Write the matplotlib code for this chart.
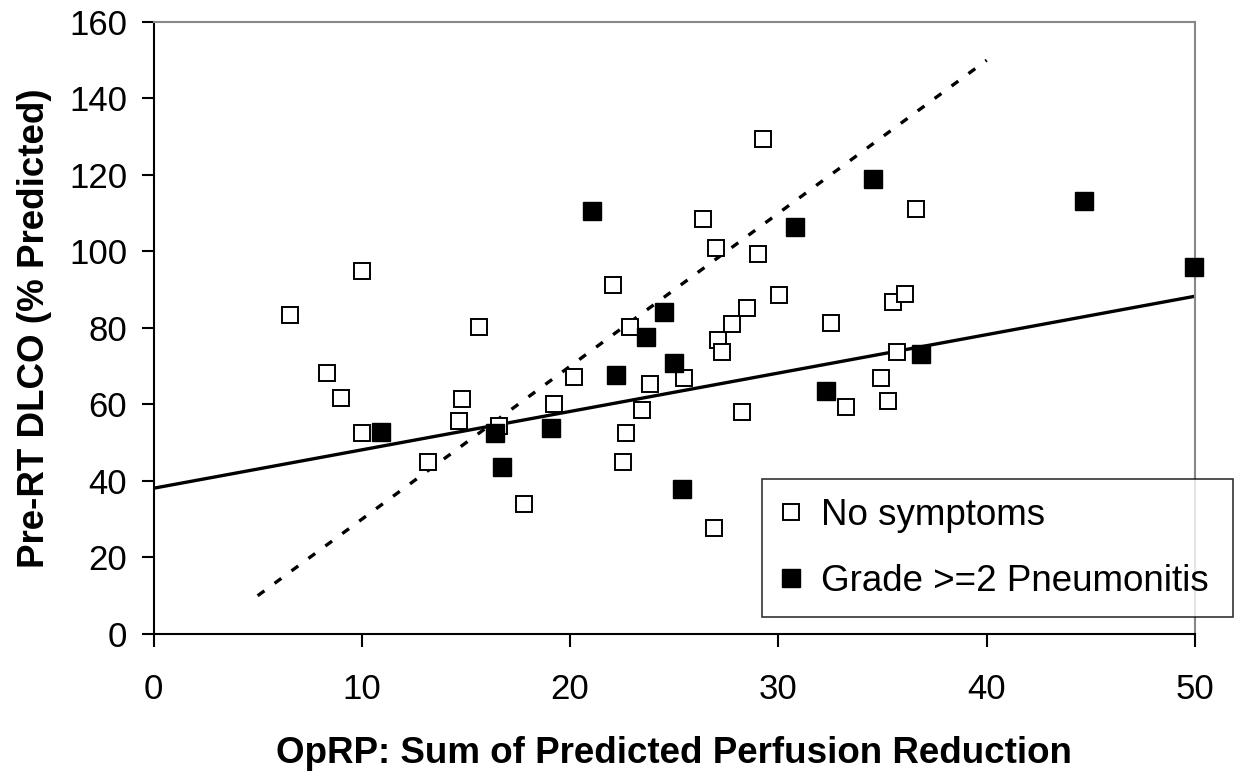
import numpy as np
import matplotlib.pyplot as plt

plt.rcParams['font.family'] = ['Liberation Sans', 'DejaVu Sans']

# No symptoms (open squares)
x_none = [6.55, 8.34, 9.02, 10.02, 10.02, 13.2, 14.68, 14.8, 15.64, 16.57,
          17.79, 19.21, 20.2, 22.07, 22.55, 22.67, 22.86, 23.44, 23.85, 25.48,
          26.4, 26.91, 27.0, 27.12, 27.28, 27.77, 28.25, 28.5, 29.04, 29.25,
          30.03, 32.51, 33.25, 34.91, 35.26, 35.49, 35.68, 36.08, 36.6]
y_none = [83.4, 68.2, 61.6, 95.0, 52.6, 44.9, 55.8, 61.5, 80.2, 54.4,
          34.0, 60.2, 67.3, 91.2, 44.9, 52.5, 80.2, 58.6, 65.3, 67.0,
          108.5, 27.6, 100.8, 76.9, 73.6, 81.0, 58.1, 85.2, 99.4, 129.3,
          88.7, 81.3, 59.4, 66.9, 61.0, 86.8, 73.6, 88.9, 111.2]

# Grade >=2 pneumonitis (filled squares)
x_pneu = [10.9, 16.38, 16.73, 19.07, 21.07, 22.19, 23.66, 24.49, 25.0, 25.36,
          30.81, 32.3, 34.53, 36.84, 44.67, 49.97]
y_pneu = [52.7, 52.6, 43.6, 53.9, 110.6, 67.8, 77.7, 84.3, 70.8, 38.0,
          106.4, 63.6, 118.9, 73.1, 113.3, 96.0]

# trend lines (endpoints)
solid_x = [0, 50]
solid_y = [38.1, 88.3]
dotted_x = [5, 40]
dotted_y = [10, 150]

fig = plt.figure(figsize=(12.44, 7.71), dpi=100)
ax = fig.add_axes([0.1234, 0.1777, 0.8372, 0.7938])

ax.plot(solid_x, solid_y, color='black', linewidth=2.4, zorder=2)
ax.plot(dotted_x, dotted_y, color='black', linewidth=2.4,
        linestyle=(0, (2.5, 3.8)), zorder=2)

ax.plot(x_none, y_none, linestyle='none', marker='s', markersize=12,
        markerfacecolor='white', markeredgecolor='black', markeredgewidth=1.4,
        label='No symptoms', zorder=3, clip_on=False)
ax.plot(x_pneu, y_pneu, linestyle='none', marker='s', markersize=12.5,
        markerfacecolor='black', markeredgecolor='black', markeredgewidth=1.0,
        label='Grade >=2 Pneumonitis', zorder=3, clip_on=False)

ax.set_xlim(0, 50)
ax.set_ylim(0, 160)
ax.set_xticks(np.arange(0, 51, 10))
ax.set_yticks(np.arange(0, 161, 20))

for s in ['left', 'bottom']:
    ax.spines[s].set_color('black')
    ax.spines[s].set_linewidth(1.5)
for s in ['top', 'right']:
    ax.spines[s].set_color('#888888')
    ax.spines[s].set_linewidth(1.5)

ax.tick_params(axis='both', direction='out', length=9, width=1.5,
               labelsize=25, color='black')
ax.tick_params(axis='y', pad=10)
ax.tick_params(axis='x', pad=19)

ax.set_xlabel('OpRP: Sum of Predicted Perfusion Reduction', fontsize=26.5,
              fontweight='bold', labelpad=22)
ax.set_ylabel('Pre-RT DLCO (% Predicted)', fontsize=26.5, fontweight='bold',
              labelpad=12)

leg = ax.legend(loc='lower left', bbox_to_anchor=(0.5843, 0.0278, 0.4522, 0.2288),
                mode='expand', borderaxespad=0, fontsize=26.5, frameon=True,
                fancybox=False, edgecolor='black', handlelength=0.6,
                handletextpad=0.5, borderpad=0.5, labelspacing=0.84,
                markerscale=1.0)
leg.get_frame().set_linewidth(1.2)
leg.set_zorder(5)

fig.savefig('out.png', dpi=100)
